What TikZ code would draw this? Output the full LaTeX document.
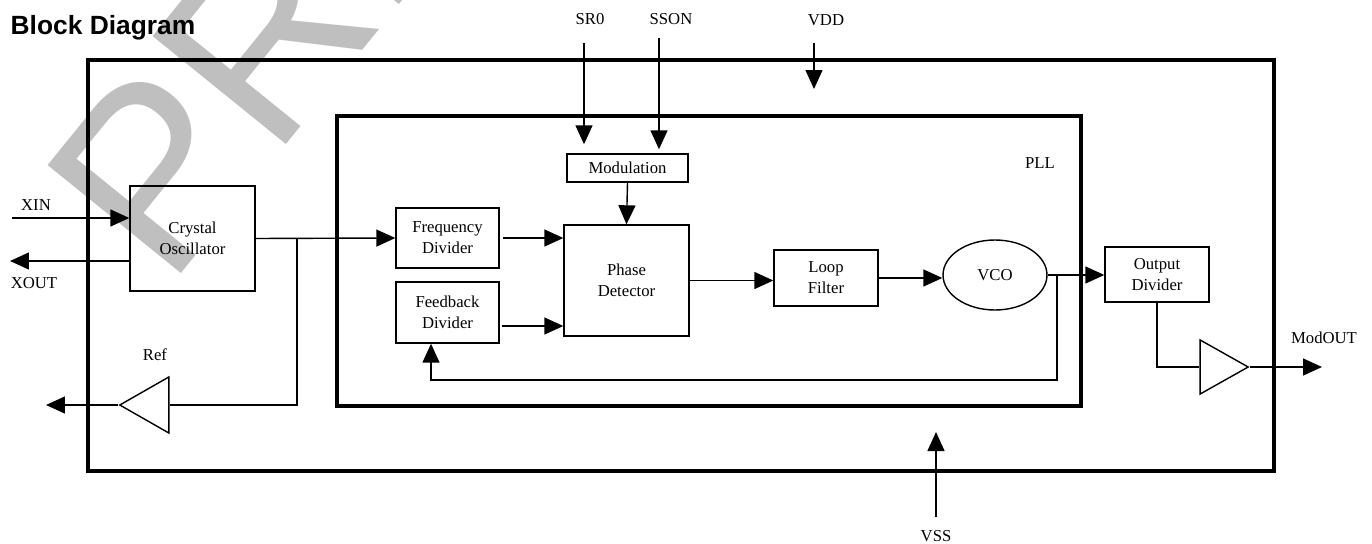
\documentclass[tikz,border=0pt]{standalone}
\usepackage{fontspec}
\setmainfont{Liberation Serif}
\newfontfamily\headfont{Liberation Sans}
\usetikzlibrary{arrows.meta,shapes.geometric}
\tikzset{
  blk/.style={draw,line width=0.8pt,align=center,inner sep=1pt},
  frame/.style={draw,line width=2pt},
  amp/.style={draw,line width=0.8pt,isosceles triangle,isosceles triangle stretches,inner sep=0pt},
  lbl/.style={inner sep=1pt}
}
\begin{document}
\begin{tikzpicture}[x=0.02cm,y=-0.02cm,line width=0.8pt,>={Triangle[length=3.8mm,width=3.4mm]},
  font=\fontsize{9.5}{12}\selectfont]
\useasboundingbox (0,0) rectangle (1372,544);
% watermark
\begin{scope}
\clip (0,0) rectangle (1372,544);
\node[rotate=51,anchor=base west,text=black!25,inner sep=0pt,font=\headfont\fontsize{142}{142}\selectfont] (wm) at (168,290) {PRELIMINARY};
\end{scope}
\node[anchor=base west,inner sep=0pt,font=\headfont\bfseries\fontsize{15}{18}\selectfont] (title) at (10,35) {Block Diagram};
% frames
\draw[frame] (88,60) rectangle (1274,471);
\draw[frame] (337,116) rectangle (1081,406);
\node[lbl] (pll) at (1040,163) {PLL};
% blocks
\node[blk,minimum width=2.5cm,minimum height=2.1cm] (osc) at (192.5,238.5) {Crystal\\Oscillator};
\node[blk,minimum width=2.06cm,minimum height=1.2cm] (freq) at (447.5,238) {Frequency\\Divider};
\node[blk,minimum width=2.06cm,minimum height=1.22cm] (feed) at (447.5,312.5) {Feedback\\Divider};
\node[blk,minimum width=2.5cm,minimum height=2.22cm] (pd) at (626.5,280.5) {Phase\\Detector};
\node[blk,minimum width=2.42cm,minimum height=0.56cm] (mod) at (627.5,168) {Modulation};
\node[blk,minimum width=2.08cm,minimum height=1.12cm] (lf) at (826,278) {Loop\\Filter};
\node[blk,ellipse,minimum width=2.08cm,minimum height=1.4cm] (vco) at (995,275) {VCO};
\node[blk,minimum width=2.08cm,minimum height=1.1cm] (od) at (1157,274.5) {Output\\Divider};
\node[amp,shape border rotate=180,minimum width=1.12cm,minimum height=0.98cm,anchor=apex] (ref) at (118,405) {};
\node[amp,minimum width=1.08cm,minimum height=0.96cm,anchor=apex] (buf) at (1250,367) {};
% pins
\node[lbl] (xinl) at (36,205) {XIN};
\node[lbl] (xoutl) at (34,283) {XOUT};
\node[lbl] (refl) at (155,355) {Ref};
\node[lbl] (sr0l) at (590,19) {SR0};
\node[lbl] (ssonl) at (671,19) {SSON};
\node[lbl] (vddl) at (826,20) {VDD};
\node[lbl] (vssl) at (936,536) {VSS};
\node[lbl] (modoutl) at (1324,338) {ModOUT};
\path
(12,218) coordinate (xin)
(10,261) coordinate (xout)
(297,238.5) coordinate (tap)
(46,405) coordinate (refout)
(584,43) coordinate (sr0)
(659,38) coordinate (sson)
(814,43) coordinate (vdd)
(814,89) coordinate (vddin)
(936,517) coordinate (vss)
(936,432) coordinate (vssin)
(502,326) coordinate (fbin)
(1057,275) coordinate (fbtap)
(431,380) coordinate (fbl)
(1322,367) coordinate (modout);
% connections
\draw[->] (xin) -- (xin -| osc.west);
\draw[->] (osc.west |- xout) -- (xout);
\draw[->] (osc.east) -- (freq.west);
\draw (tap) |- (ref.east);
\draw[->] (ref.west) -- (refout);
\draw[->,shorten >=0.18cm] (sr0) -- (sr0 |- mod.north);
\draw[->,shorten >=0.08cm] (sson) -- (sson |- mod.north);
\draw[->] (vdd) -- (vddin);
\draw[->] (vss) -- (vssin);
\draw[->] (mod.south) -- (pd.north);
\draw[->,shorten <=0.06cm] (freq.east) -- (freq.east -| pd.west);
\draw[->] (fbin) -- (fbin -| pd.west);
\draw[->] (pd.east) -- (pd.east -| lf.west);
\draw[->] (lf.east) -- (lf.east -| vco.west);
\draw[->] (vco.east) -- (vco.east -| od.west);
\draw[->] (fbtap) |- (fbl) -- (fbl |- feed.south);
\draw (od.south) |- (buf.west);
\draw[->] (buf.east) -- (modout);
\end{tikzpicture}
\end{document}
